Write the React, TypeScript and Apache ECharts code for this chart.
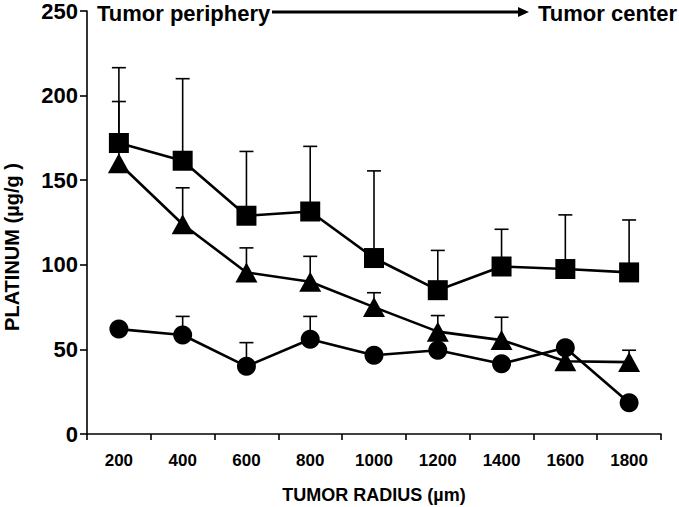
import React, { useEffect, useRef } from "react";
import * as echarts from "echarts";

const categories = ["200", "400", "600", "800", "1000", "1200", "1400", "1600", "1800"];
const yTicks = { min: 0, max: 250, interval: 50 };

const squareMeans = [172, 161.5, 129, 131.5, 104, 85, 99, 97.5, 95.5];
const squareUpper = [216.5, 210, 167, 170, 155.5, 108.5, 121, 129.5, 126.5];

const triangleMeans = [160, 124, 95.5, 90, 75, 60.5, 55.5, 43, 42.5];
const triangleUpper = [196.5, 145.5, 110, 105, 83.5, 70, 69, null, 49.5];

const circleMeans = [62, 58.5, 40, 56, 46.5, 49.5, 41.5, 51, 18.5];
const circleUpper = [null, 69.5, 54, 69.5, null, null, null, null, null];

const FONT = '"Liberation Sans", Arial, Helvetica, sans-serif';

function errorData(means: number[], upper: (number | null)[]) {
  const out: number[][] = [];
  means.forEach((m, i) => {
    const u = upper[i];
    if (u !== null && u !== undefined) out.push([i, m, u]);
  });
  return out;
}

function errorSeries(means: number[], upper: (number | null)[]) {
  return {
    type: "custom",
    z: 1,
    silent: true,
    data: errorData(means, upper),
    encode: { x: 0, y: [1, 2] },
    renderItem: (params: any, api: any) => {
      const i = api.value(0);
      const lo = api.coord([i, api.value(1)]);
      const hi = api.coord([i, api.value(2)]);
      const half = 7;
      const style = { stroke: "#000", lineWidth: 1.6 };
      return {
        type: "group",
        children: [
          { type: "line", shape: { x1: lo[0], y1: lo[1], x2: hi[0], y2: hi[1] }, style },
          { type: "line", shape: { x1: hi[0] - half, y1: hi[1], x2: hi[0] + half, y2: hi[1] }, style },
        ],
      };
    },
  };
}

function lineSeries(name: string, data: number[], symbol: string, size: any) {
  return {
    type: "line",
    name,
    z: 3,
    data,
    symbol,
    symbolSize: size,
    showAllSymbol: true,
    lineStyle: { color: "#000", width: 2.6 },
    itemStyle: { color: "#000", borderWidth: 0 },
  };
}

export default function App() {
  const ref = useRef<HTMLDivElement>(null);
  useEffect(() => {
    if (!ref.current) return;
    const chart = echarts.init(ref.current, undefined, { renderer: "svg" });
    chart.setOption({
      animation: false,
      backgroundColor: "#fff",
      textStyle: { fontFamily: FONT },
      grid: { left: 87, right: 18, top: 9, bottom: 73 },
      xAxis: {
        type: "category",
        data: categories,
        boundaryGap: true,
        axisLine: { lineStyle: { color: "#000", width: 1.6 } },
        axisTick: { show: true, length: 6, lineStyle: { color: "#000", width: 1.6 } },
        axisLabel: { color: "#000", fontSize: 17, fontWeight: "bold", margin: 18, fontFamily: FONT },
        splitLine: { show: false },
      },
      yAxis: {
        type: "value",
        min: yTicks.min,
        max: yTicks.max,
        interval: yTicks.interval,
        axisLine: { show: true, lineStyle: { color: "#000", width: 1.6 } },
        axisTick: { show: true, length: 7, lineStyle: { color: "#000", width: 1.6 } },
        axisLabel: { color: "#000", fontSize: 22, fontWeight: "bold", margin: 9, fontFamily: FONT },
        splitLine: { show: false },
      },
      series: [
        errorSeries(squareMeans, squareUpper),
        errorSeries(triangleMeans, triangleUpper),
        errorSeries(circleMeans, circleUpper),
        lineSeries("square", squareMeans, "rect", 20),
        lineSeries("triangle", triangleMeans, "triangle", [22, 20]),
        lineSeries("circle", circleMeans, "circle", 19),
      ],
      graphic: [
        {
          type: "text",
          x: 97,
          y: 13,
          style: {
            text: "Tumor periphery",
            fill: "#000",
            font: `bold 22px ${FONT}`,
            textVerticalAlign: "middle",
            textAlign: "left",
          },
        },
        {
          type: "line",
          shape: { x1: 272, y1: 12, x2: 520, y2: 12 },
          style: { stroke: "#000", lineWidth: 3 },
        },
        {
          type: "polygon",
          shape: { points: [[518, 7], [529, 12], [518, 17]] },
          style: { fill: "#000" },
        },
        {
          type: "text",
          x: 677,
          y: 13,
          style: {
            text: "Tumor center",
            fill: "#000",
            font: `bold 22px ${FONT}`,
            textVerticalAlign: "middle",
            textAlign: "right",
          },
        },
        {
          type: "text",
          x: 374,
          y: 495,
          style: {
            text: "TUMOR RADIUS (µm)",
            fill: "#000",
            font: `bold 18px ${FONT}`,
            textVerticalAlign: "middle",
            textAlign: "center",
          },
        },
        {
          type: "text",
          x: 12,
          y: 247,
          rotation: Math.PI / 2,
          style: {
            text: "PLATINUM (µg/g )",
            fill: "#000",
            font: `bold 20px ${FONT}`,
            textVerticalAlign: "middle",
            textAlign: "center",
          },
        },
      ],
    });
    return () => chart.dispose();
  }, []);
  return (
    <div
      ref={ref}
      style={{ position: "fixed", left: 0, top: 0, width: 679, height: 507, background: "#fff" }}
    />
  );
}
